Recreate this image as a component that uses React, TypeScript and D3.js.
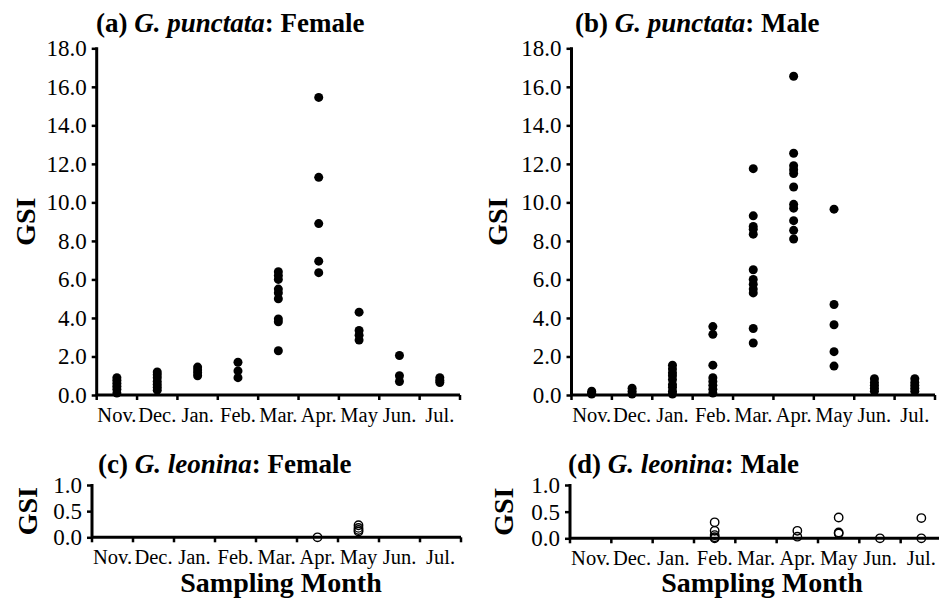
import * as d3 from 'd3';
import * as React from 'react';

const { useRef, useEffect } = React;

const width = 939;
const height = 600;

const months = ['Nov.', 'Dec.', 'Jan.', 'Feb.', 'Mar.', 'Apr.', 'May', 'Jun.', 'Jul.'];

// GSI readings per sampling month (same order as months)
const punctataFemale: number[][] = [
  [0.9, 0.75, 0.6, 0.45, 0.3, 0.1],
  [1.2, 1.05, 0.9, 0.7, 0.55, 0.4, 0.25],
  [1.45, 1.3, 1.15, 1.0],
  [1.7, 1.25, 0.9],
  [6.4, 6.2, 6.0, 5.5, 5.3, 5.0, 3.95, 3.8, 2.3],
  [15.45, 11.3, 8.9, 6.95, 6.35],
  [4.3, 3.35, 3.1, 2.85],
  [2.05, 1.0, 0.7],
  [0.9, 0.75, 0.65],
];

const punctataMale: number[][] = [
  [0.2, 0.1, 0.05],
  [0.35, 0.2, 0.05],
  [1.55, 1.35, 1.15, 1.0, 0.8, 0.55, 0.4, 0.2, 0.05],
  [3.55, 3.15, 1.55, 0.9, 0.7, 0.5, 0.3, 0.1],
  [11.75, 9.3, 8.75, 8.6, 8.35, 6.5, 6.0, 5.75, 5.5, 5.3, 3.45, 2.7],
  [16.55, 12.55, 11.9, 11.7, 11.5, 10.8, 9.9, 9.7, 9.05, 8.55, 8.1],
  [9.65, 4.7, 3.65, 2.25, 1.5],
  [0.85, 0.65, 0.5, 0.35, 0.2],
  [0.85, 0.65, 0.5, 0.35, 0.2],
];

const leoninaFemale: number[][] = [[], [], [], [], [], [0.0], [0.23, 0.18, 0.14, 0.11], [], []];

const leoninaMale: number[][] = [
  [],
  [],
  [],
  [0.3, 0.14, 0.06, 0.02, 0.0],
  [],
  [0.14, 0.03],
  [0.39, 0.11, 0.09],
  [0.0],
  [0.38, 0.0],
];

const bigTicks = [0, 2, 4, 6, 8, 10, 12, 14, 16, 18];
const smallTicks = [0, 0.5, 1];

type Panel = {
  label: string;
  species: string;
  sex: string;
  values: number[][];
  open: boolean;
  ticks: number[];
  x0: number;
  x1: number;
  yTop: number;
  yBot: number;
  titleX: number;
  titleY: number;
  gsiX: number;
  xTitleX?: number;
};

const panels: Panel[] = [
  { label: '(a) ', species: 'G. punctata', sex: ': Female', values: punctataFemale, open: false, ticks: bigTicks,
    x0: 96.7, x1: 460, yTop: 48.3, yBot: 395, titleX: 96, titleY: 32, gsiX: 25 },
  { label: '(b) ', species: 'G. punctata', sex: ': Male', values: punctataMale, open: false, ticks: bigTicks,
    x0: 571.5, x1: 935, yTop: 48.3, yBot: 395, titleX: 575, titleY: 32, gsiX: 497 },
  { label: '(c) ', species: 'G. leonina', sex: ': Female', values: leoninaFemale, open: true, ticks: smallTicks,
    x0: 92, x1: 461, yTop: 485, yBot: 537.3, titleX: 98, titleY: 473, gsiX: 27, xTitleX: 281 },
  { label: '(d) ', species: 'G. leonina', sex: ': Male', values: leoninaMale, open: true, ticks: smallTicks,
    x0: 570, x1: 942, yTop: 485, yBot: 538.3, titleX: 568, titleY: 473, gsiX: 503, xTitleX: 762 },
];

const font = '"Liberation Serif", "Times New Roman", serif';

export default () => {
  const rootRef = useRef<SVGSVGElement>(null);

  useEffect(() => {
    const svgEl = rootRef.current;
    if (!svgEl) return;
    const svg = d3.select(svgEl);
    svg.selectAll('*').remove();
    svg.attr('font-family', font);

    for (const p of panels) {
      const g = svg.append('g');
      const yMax = p.ticks[p.ticks.length - 1];
      const x = d3.scaleBand<string>().domain(months).range([p.x0, p.x1]);
      const y = d3.scaleLinear().domain([0, yMax]).range([p.yBot, p.yTop]);

      // title
      const title = g.append('text')
        .attr('x', p.titleX)
        .attr('y', p.titleY)
        .attr('font-size', 27)
        .attr('font-weight', 'bold');
      title.append('tspan').text(p.label);
      title.append('tspan').attr('font-style', 'italic').text(p.species);
      title.append('tspan').text(p.sex);

      // y axis
      const yAxis = g.append('g')
        .attr('transform', `translate(${p.x0},0)`)
        .call(
          d3.axisLeft(y)
            .tickValues(p.ticks)
            .tickFormat(d3.format('.1f'))
            .tickSize(5)
            .tickSizeOuter(0)
            .tickPadding(5),
        );
      yAxis.attr('font-family', font);
      yAxis.select('.domain').remove();
      yAxis.selectAll('line').attr('stroke', '#000').attr('stroke-width', 2.5);
      yAxis.selectAll('text').attr('font-size', 23).attr('fill', '#000');

      // x axis labels
      const xAxis = g.append('g')
        .attr('transform', `translate(0,${p.yBot})`)
        .call(d3.axisBottom(x).tickSize(0).tickSizeOuter(0).tickPadding(0));
      xAxis.attr('font-family', font);
      xAxis.select('.domain').remove();
      xAxis.selectAll('text')
        .attr('font-size', 20.5)
        .attr('fill', '#000')
        .attr('dy', null)
        .attr('y', 27);

      // boundary ticks on the x axis
      const bounds = d3.range(months.length + 1).map(i => p.x0 + i * x.step());
      g.append('g')
        .selectAll('line')
        .data(bounds)
        .join('line')
        .attr('x1', d => d)
        .attr('x2', d => d)
        .attr('y1', p.yBot)
        .attr('y2', p.yBot + 5)
        .attr('stroke', '#000')
        .attr('stroke-width', 2.5);

      // axis lines
      g.append('line')
        .attr('x1', p.x0).attr('x2', p.x0)
        .attr('y1', y(yMax) - 1).attr('y2', p.yBot)
        .attr('stroke', '#000').attr('stroke-width', 3);
      g.append('line')
        .attr('x1', p.x0 - 1).attr('x2', p.x1)
        .attr('y1', p.yBot).attr('y2', p.yBot)
        .attr('stroke', '#000').attr('stroke-width', 3);

      // GSI label
      const yMid = (p.yTop + p.yBot) / 2;
      g.append('text')
        .attr('transform', `translate(${p.gsiX},${yMid}) rotate(-90)`)
        .attr('text-anchor', 'middle')
        .attr('dominant-baseline', 'central')
        .attr('font-size', 28)
        .attr('font-weight', 'bold')
        .text('GSI');

      if (p.xTitleX !== undefined) {
        g.append('text')
          .attr('x', p.xTitleX)
          .attr('y', 592)
          .attr('text-anchor', 'middle')
          .attr('font-size', 28)
          .attr('font-weight', 'bold')
          .text('Sampling Month');
      }

      // points
      const pts = p.values.flatMap((vals, i) => vals.map(v => ({ month: months[i], value: v })));
      g.append('g')
        .selectAll('circle')
        .data(pts)
        .join('circle')
        .attr('cx', d => (x(d.month) as number) + x.bandwidth() / 2)
        .attr('cy', d => y(d.value))
        .attr('r', p.open ? 4.2 : 4.5)
        .attr('fill', p.open ? 'none' : '#000')
        .attr('stroke', '#000')
        .attr('stroke-width', p.open ? 1.4 : 0);
    }
  }, []);

  return (
    <svg
      ref={rootRef}
      width={width}
      height={height}
      viewBox={`0 0 ${width} ${height}`}
      style={{ position: 'absolute', left: 0, top: 0, background: '#fff', fontFamily: font }}
    />
  );
};
